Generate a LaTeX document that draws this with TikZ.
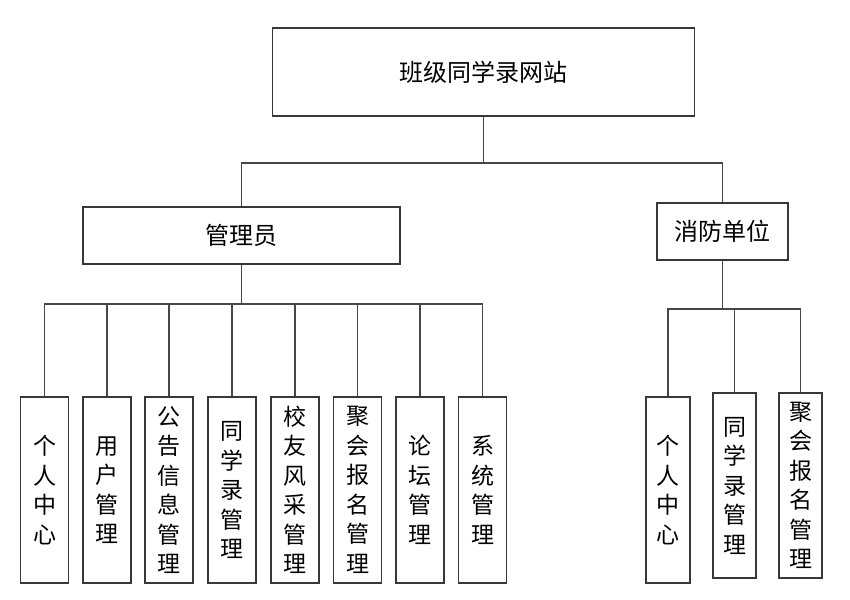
\documentclass[tikz,border=0pt]{standalone}
\usepackage{fontspec}
\newfontfamily\cjk{Noto Sans CJK SC}
\begin{document}
\begin{tikzpicture}[x=1pt,y=-1pt,
  box/.style={draw=black!78, line width=1.1pt, fill=white, inner sep=0pt, align=center,
    font=\cjk\fontsize{23}{29.5}\selectfont},
  big/.style={box, font=\cjk\fontsize{24}{28}\selectfont},
  conn/.style={draw=black!72, line width=1.1pt}]
\useasboundingbox[fill=white] (0,0) rectangle (850,599);
% top levels
\node[big, minimum width=422pt, minimum height=88pt] (top) at (483.5,72) {班级同学录网站};
\node[big, minimum width=317pt, minimum height=57pt] (adm) at (241.5,235.5) {管理员};
\node[big, minimum width=131pt, minimum height=57pt] (fire) at (722.5,231.5) {消防单位};
% admin children
\node[box, minimum width=48pt, minimum height=186pt] (b1) at (44.5,490) {个\\人\\中\\心};
\node[box, minimum width=48pt, minimum height=186pt] (b2) at (107,490) {用\\户\\管\\理};
\node[box, minimum width=48pt, minimum height=186pt] (b3) at (169,490) {公\\告\\信\\息\\管\\理};
\node[box, minimum width=48pt, minimum height=186pt] (b4) at (232,490) {同\\学\\录\\管\\理};
\node[box, minimum width=48pt, minimum height=186pt] (b5) at (295,490) {校\\友\\风\\采\\管\\理};
\node[box, minimum width=48pt, minimum height=186pt] (b6) at (357.5,490) {聚\\会\\报\\名\\管\\理};
\node[box, minimum width=48pt, minimum height=186pt] (b7) at (420,490) {论\\坛\\管\\理};
\node[box, minimum width=48pt, minimum height=186pt] (b8) at (482.5,490) {系\\统\\管\\理};
% fire children
\node[box, minimum width=44pt, minimum height=186pt] (r1) at (668,490) {个\\人\\中\\心};
\node[box, minimum width=43pt, minimum height=185pt] (r2) at (734.5,485.5) {同\\学\\录\\管\\理};
\node[box, minimum width=43pt, minimum height=185pt] (r3) at (800.5,485.5) {聚\\会\\报\\名\\管\\理};
% junction points
\coordinate (h1) at (483.5,163);
\coordinate (h2) at (241.5,304);
\coordinate (h3) at (722.5,309);
% connectors
\draw[conn] (top.south) -- (h1);
\draw[conn] (adm.north) |- (h1) -| (fire.north);
\draw[conn] (adm.south) -- (h2);
\draw[conn] (b1.north) |- (b8.north |- h2) -- (b8.north);
\foreach \n in {b2,b3,b4,b5,b6,b7} \draw[conn] (\n.north) -- (\n.north |- h2);
\draw[conn] (fire.south) -- (h3);
\draw[conn] (r1.north) |- (r3.north |- h3) -- (r3.north);
\draw[conn] (r2.north) -- (r2.north |- h3);
\end{tikzpicture}
\end{document}
